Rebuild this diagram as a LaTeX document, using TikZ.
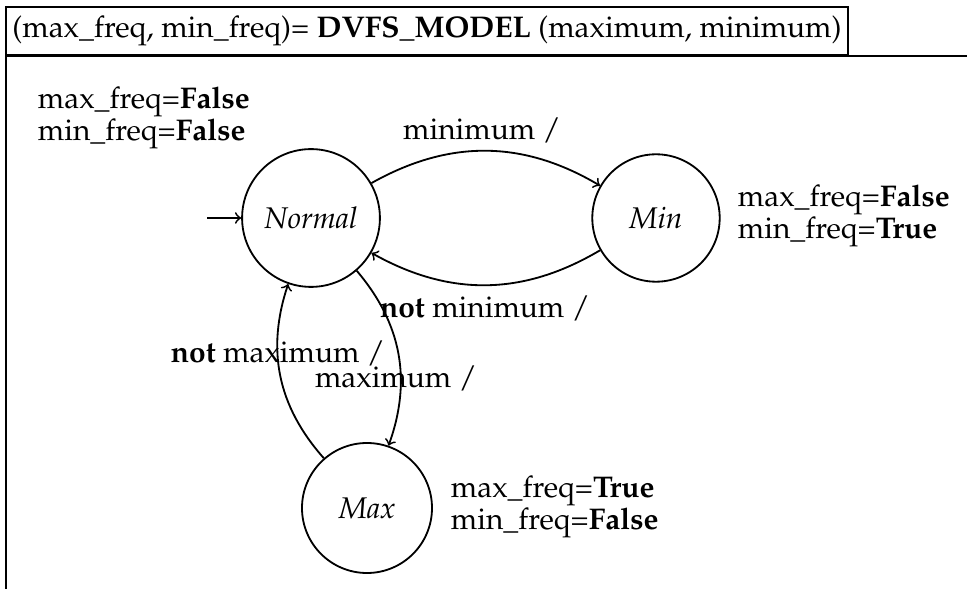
\documentclass[tikz,border=0pt]{standalone}
\usepackage[T1]{fontenc}
\usepackage{mathpazo}
\tikzset{fsmstate/.style={circle, draw=black, minimum size=#1, inner sep=0pt},fsmstate/.default={49pt}}
\tikzset{outvals/.style={align=left, anchor=west, inner sep=0pt}}

\begin{document}
\begin{tikzpicture}[x=0.3846pt,y=-0.3846pt,line width=0.7pt,font=\fontsize{11.5pt}{12.4pt}\selectfont]
      \useasboundingbox (0,0) rectangle (967,589);

      \node[draw=black,rectangle,minimum width=323.8pt,minimum height=18.5pt,inner sep=0pt] (hdr) at (427,31) {(max\_freq, min\_freq)= \textbf{DVFS\_MODEL} (maximum, minimum)};
      \draw[-] (1000,56) -| (6,600);

      \node[fsmstate=53pt] (normal) at (311,218) {\textit{Normal}};
      \node[fsmstate] (min) at (656,218) {\textit{Min}};
      \node[fsmstate=50pt] (max) at (367,508) {\textit{Max}};

      \coordinate (init) at (207,218);
      \draw[->] (init) -- (normal);

      \draw[->] (normal) to[bend left=30] (min);
      \node (lmin) at (482,130) {minimum /};
      \draw[->] (min) to[bend left=30] (normal);
      \node (lnotmin) at (485,308) {\textbf{not} minimum /};
      \draw[->] (normal) to[bend left=30] (max);
      \node (lmax) at (396,378) {maximum /};
      \draw[->] (max) to[bend left=30] (normal);
      \node (lnotmax) at (278,353) {\textbf{not} maximum /};

      \node[outvals] (onormal) at (37,118) {max\_freq=\textbf{False}\\min\_freq=\textbf{False}};
      \node[outvals] (omin) at (737,216) {max\_freq=\textbf{False}\\min\_freq=\textbf{True}};
      \node[outvals] (omax) at (450,507) {max\_freq=\textbf{True}\\min\_freq=\textbf{False}};
  \end{tikzpicture}
\end{document}
